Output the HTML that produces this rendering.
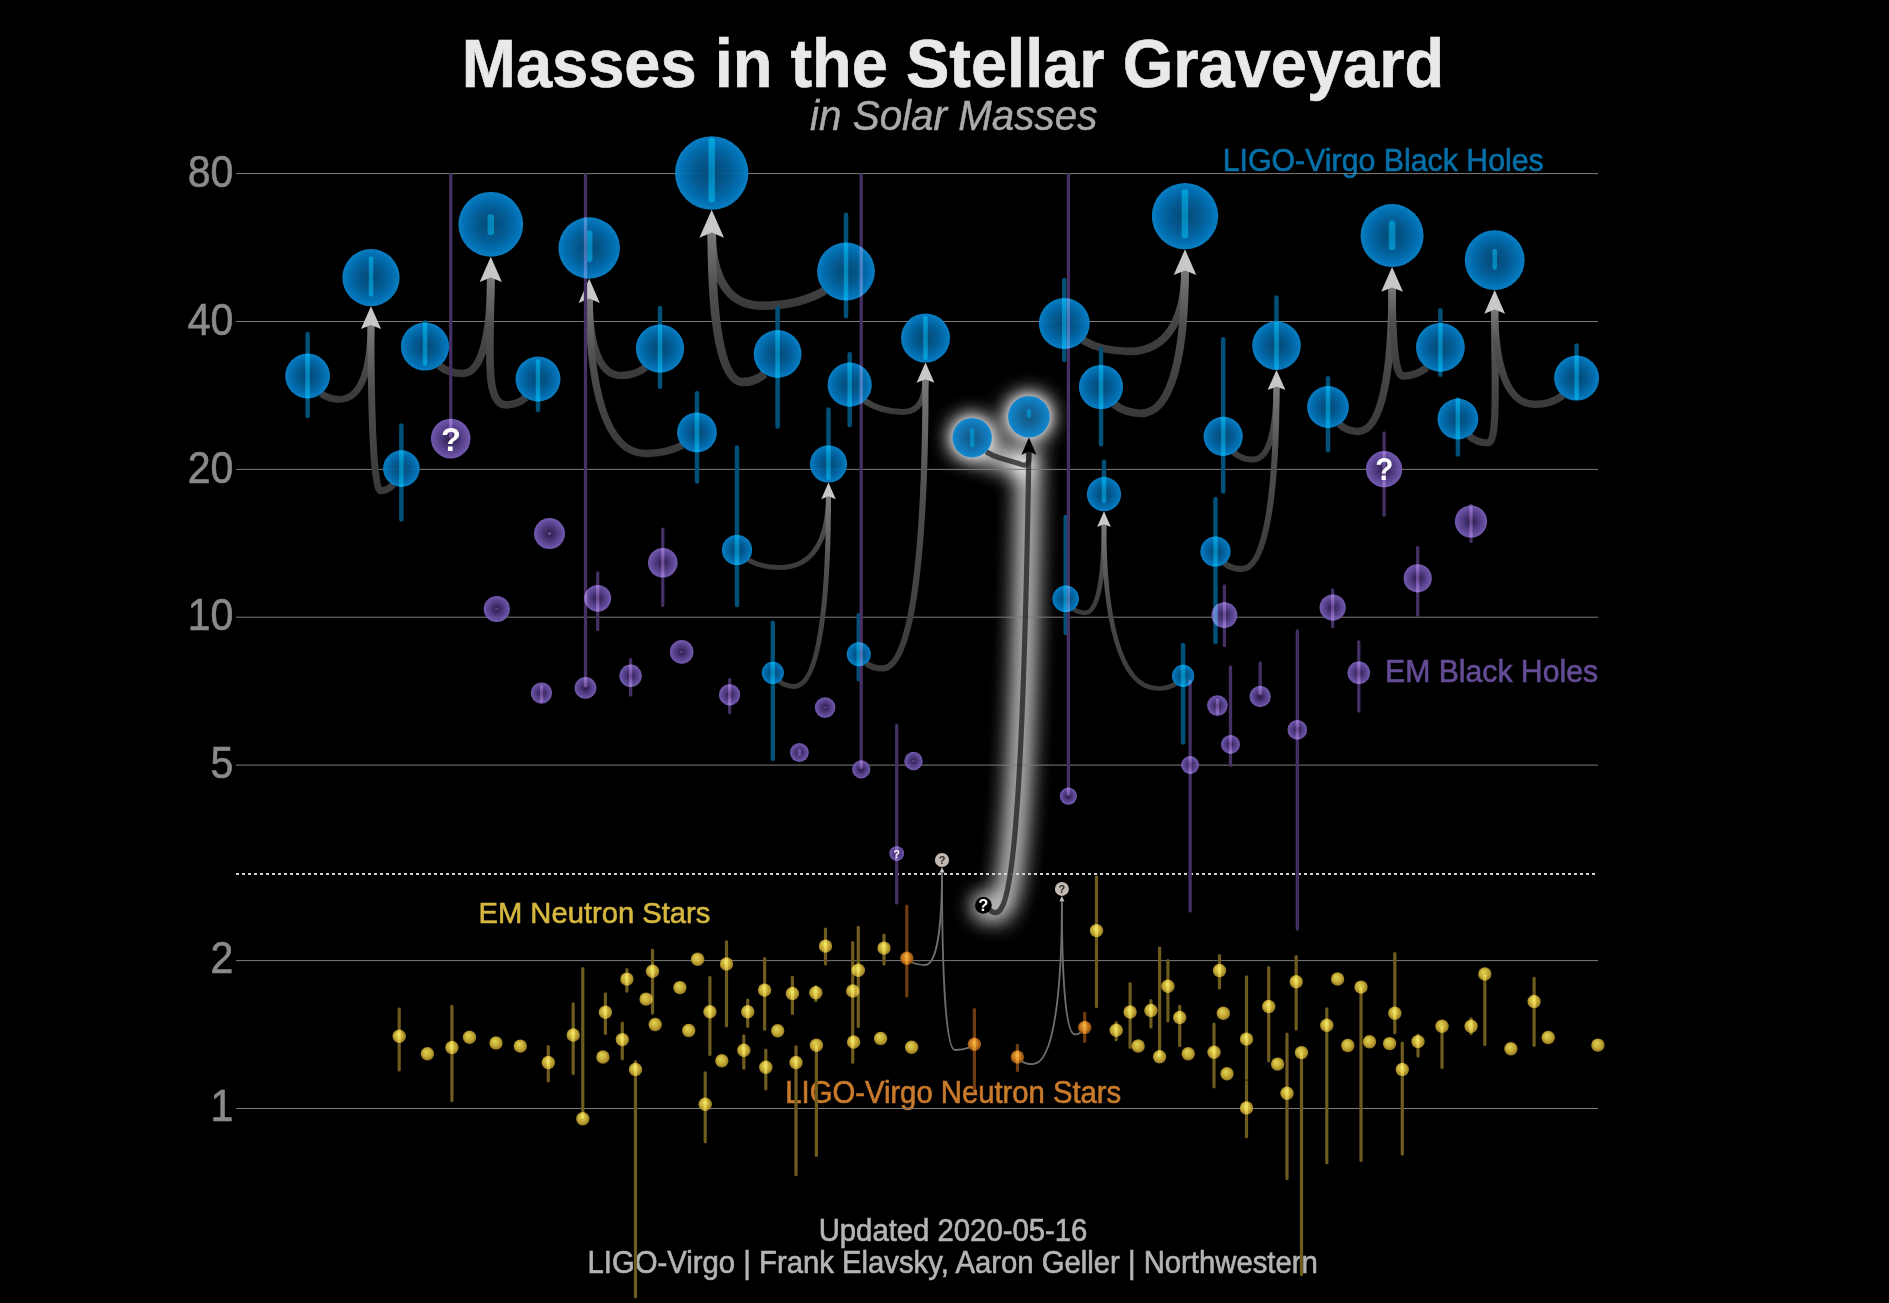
<!DOCTYPE html><html><head><meta charset="utf-8"><title>Masses in the Stellar Graveyard</title>
<style>html,body{margin:0;padding:0;background:#000;}body{width:1889px;height:1303px;overflow:hidden;}svg{display:block;}text{font-family:"Liberation Sans",sans-serif;}</style></head><body>
<svg width="1889" height="1303" viewBox="0 0 1889 1303">
<defs>
<radialGradient id="gb" cx="50%" cy="50%" r="50%"><stop offset="0" stop-color="#034d7a"/><stop offset="0.45" stop-color="#045f9a"/><stop offset="0.8" stop-color="#0276bc"/><stop offset="1" stop-color="#0a86d0"/></radialGradient>
<radialGradient id="gp" cx="50%" cy="50%" r="50%"><stop offset="0" stop-color="#2c1e48"/><stop offset="0.5" stop-color="#553f8c"/><stop offset="1" stop-color="#7c62be"/></radialGradient>
<radialGradient id="gy" cx="50%" cy="50%" r="55%" fx="38%" fy="32%"><stop offset="0" stop-color="#f4ec60"/><stop offset="0.55" stop-color="#dfbf3c"/><stop offset="1" stop-color="#9a7e24"/></radialGradient>
<radialGradient id="go" cx="50%" cy="50%" r="55%" fx="38%" fy="32%"><stop offset="0" stop-color="#f6b040"/><stop offset="0.55" stop-color="#e08420"/><stop offset="1" stop-color="#8a4a10"/></radialGradient>
<filter id="glow" filterUnits="userSpaceOnUse" x="850" y="330" width="300" height="660"><feGaussianBlur stdDeviation="11"/><feComponentTransfer><feFuncA type="linear" slope="1.7"/></feComponentTransfer></filter>
<filter id="glow2" filterUnits="userSpaceOnUse" x="850" y="330" width="300" height="660"><feGaussianBlur stdDeviation="12.5"/><feComponentTransfer><feFuncA type="linear" slope="1.9"/></feComponentTransfer></filter>
</defs>
<rect width="1889" height="1303" fill="#000"/>
<text transform="translate(953 87) scale(1 1.042)" text-anchor="middle" font-weight="bold" font-size="65" fill="#e9e9e9" stroke="#e9e9e9" stroke-width="0.6">Masses in the Stellar Graveyard</text>
<text transform="translate(953.7 129.9) scale(1 1.042)" text-anchor="middle" font-style="italic" font-size="40.4" fill="#ababab" stroke="#ababab" stroke-width="0.4">in Solar Masses</text>
<text transform="translate(233.4 187.4) scale(1 1.07)" text-anchor="end" font-size="41" fill="#8a8a8a" stroke="#8a8a8a" stroke-width="0.6">80</text>
<text transform="translate(233.4 335.1) scale(1 1.07)" text-anchor="end" font-size="41" fill="#8a8a8a" stroke="#8a8a8a" stroke-width="0.6">40</text>
<text transform="translate(233.4 482.7) scale(1 1.07)" text-anchor="end" font-size="41" fill="#8a8a8a" stroke="#8a8a8a" stroke-width="0.6">20</text>
<text transform="translate(233.4 630.2) scale(1 1.07)" text-anchor="end" font-size="41" fill="#8a8a8a" stroke="#8a8a8a" stroke-width="0.6">10</text>
<text transform="translate(233.4 778) scale(1 1.07)" text-anchor="end" font-size="41" fill="#8a8a8a" stroke="#8a8a8a" stroke-width="0.6">5</text>
<text transform="translate(233.4 973.3) scale(1 1.07)" text-anchor="end" font-size="41" fill="#8a8a8a" stroke="#8a8a8a" stroke-width="0.6">2</text>
<text transform="translate(233.4 1121.2) scale(1 1.07)" text-anchor="end" font-size="41" fill="#8a8a8a" stroke="#8a8a8a" stroke-width="0.6">1</text>
<text transform="translate(1222.7 170.9) scale(1 1.042)" font-size="30.3" fill="#0670a8" stroke="#0670a8" stroke-width="0.6">LIGO-Virgo Black Holes</text>
<text transform="translate(1385 681.8) scale(1 1.042)" font-size="30.2" fill="#654c96" stroke="#654c96" stroke-width="0.6">EM Black Holes</text>
<text transform="translate(478.5 923.2) scale(1 1.042)" font-size="29.2" fill="#d6b840" stroke="#d6b840" stroke-width="0.6">EM Neutron Stars</text>
<text transform="translate(785.3 1102.6) scale(1 1.042)" font-size="29.25" fill="#c97a2a" stroke="#c97a2a" stroke-width="0.6">LIGO-Virgo Neutron Stars</text>
<text transform="translate(953 1240.9) scale(1 1.042)" text-anchor="middle" font-size="29.3" fill="#b4b4b4" stroke="#b4b4b4" stroke-width="0.6">Updated 2020-05-16</text>
<text transform="translate(952.7 1273.2) scale(1 1.042)" text-anchor="middle" font-size="29.3" fill="#b4b4b4" stroke="#b4b4b4" stroke-width="0.6">LIGO-Virgo | Frank Elavsky, Aaron Geller | Northwestern</text>
<g filter="url(#glow2)">
<path d="M986.1 451.7Q992 455.5 1000 458L1020 464Q1028.9 468 1028.9 458L1028.9 451.2" fill="none" stroke="#fff" stroke-width="10" stroke-linecap="round"/>
<path d="M989.9 910.4C1005.4 921.6 1021.7 910.1 1028.9 451.2" fill="none" stroke="#fff" stroke-width="10" stroke-linecap="round"/>
</g>
<g filter="url(#glow)">
<circle cx="972.2" cy="437.8" r="19.7" fill="#fff"/>
<circle cx="1028.9" cy="416.7" r="20.8" fill="#fff"/>
<circle cx="983.4" cy="905.4" r="8.4" fill="#fff"/>
</g>
<line x1="236" x2="1598" y1="173.6" y2="173.6" stroke="#7c7c7c" stroke-width="1"/>
<line x1="236" x2="1598" y1="321.5" y2="321.5" stroke="#7c7c7c" stroke-width="1"/>
<line x1="236" x2="1598" y1="469.4" y2="469.4" stroke="#7c7c7c" stroke-width="1"/>
<line x1="236" x2="1598" y1="617.2" y2="617.2" stroke="#7c7c7c" stroke-width="1"/>
<line x1="236" x2="1598" y1="765.1" y2="765.1" stroke="#7c7c7c" stroke-width="1"/>
<line x1="236" x2="1598" y1="960.6" y2="960.6" stroke="#7c7c7c" stroke-width="1"/>
<line x1="236" x2="1598" y1="1108.5" y2="1108.5" stroke="#7c7c7c" stroke-width="1"/>
<line x1="236" x2="1598" y1="873.9" y2="873.9" stroke="#d2d2d2" stroke-width="2" stroke-dasharray="3 3"/>
<linearGradient id="cg1" gradientUnits="userSpaceOnUse" x1="0" x2="0" y1="399.4" y2="324.5"><stop offset="0" stop-color="#3a3a3a"/><stop offset="0.6" stop-color="#4e4e4e"/><stop offset="1" stop-color="#787878"/></linearGradient>
<path d="M320.9 393.7C326.5 397.6 333 399.4 339.4 399.4C362.5 399.4 371 365.7 371 324.5" fill="none" stroke="url(#cg1)" stroke-opacity="1" stroke-width="6.9"/>
<linearGradient id="cg2" gradientUnits="userSpaceOnUse" x1="0" x2="0" y1="490.7" y2="324.5"><stop offset="0" stop-color="#3a3a3a"/><stop offset="0.6" stop-color="#4e4e4e"/><stop offset="1" stop-color="#787878"/></linearGradient>
<path d="M393.3 484.7C389.5 488.8 385.1 490.7 380.7 490.7C373.6 490.7 371 415.9 371 324.5" fill="none" stroke="url(#cg2)" stroke-opacity="1" stroke-width="6.9"/>
<path d="M371 306.2L381.1 329.1L371 325L360.9 329.1Z" fill="#c8c8c8"/>
<linearGradient id="cg3" gradientUnits="userSpaceOnUse" x1="0" x2="0" y1="373.5" y2="276.9"><stop offset="0" stop-color="#3a3a3a"/><stop offset="0.6" stop-color="#4e4e4e"/><stop offset="1" stop-color="#787878"/></linearGradient>
<path d="M439 365.7C446 371.1 454.2 373.5 462.4 373.5C483.1 373.5 490.8 330 490.8 276.9" fill="none" stroke="url(#cg3)" stroke-opacity="1" stroke-width="7.7"/>
<linearGradient id="cg4" gradientUnits="userSpaceOnUse" x1="0" x2="0" y1="404.8" y2="276.9"><stop offset="0" stop-color="#3a3a3a"/><stop offset="0.6" stop-color="#4e4e4e"/><stop offset="1" stop-color="#787878"/></linearGradient>
<path d="M525.8 397.6C519.9 402.5 512.9 404.8 506 404.8C483.8 404.8 490.8 347.3 490.8 276.9" fill="none" stroke="url(#cg4)" stroke-opacity="1" stroke-width="7.7"/>
<path d="M490.8 256.7L501.9 282L490.8 277.4L479.7 282Z" fill="#c8c8c8"/>
<linearGradient id="cg5" gradientUnits="userSpaceOnUse" x1="0" x2="0" y1="375.5" y2="298.1"><stop offset="0" stop-color="#3a3a3a"/><stop offset="0.6" stop-color="#4e4e4e"/><stop offset="1" stop-color="#787878"/></linearGradient>
<path d="M645.6 367.5C638.3 373 629.5 375.5 620.8 375.5C597.7 375.5 589.2 340.7 589.2 298.1" fill="none" stroke="url(#cg5)" stroke-opacity="1" stroke-width="7.3"/>
<linearGradient id="cg6" gradientUnits="userSpaceOnUse" x1="0" x2="0" y1="453.5" y2="298.1"><stop offset="0" stop-color="#3a3a3a"/><stop offset="0.6" stop-color="#4e4e4e"/><stop offset="1" stop-color="#787878"/></linearGradient>
<path d="M682.2 445.3C671.8 450.9 658.7 453.5 645.6 453.5C604.4 453.5 589.2 383.6 589.2 298.1" fill="none" stroke="url(#cg6)" stroke-opacity="1" stroke-width="7.3"/>
<path d="M589.2 278.7L599.8 302.9L589.2 298.5L578.6 302.9Z" fill="#c8c8c8"/>
<linearGradient id="cg7" gradientUnits="userSpaceOnUse" x1="0" x2="0" y1="305.8" y2="232.1"><stop offset="0" stop-color="#3a3a3a"/><stop offset="0.6" stop-color="#4e4e4e"/><stop offset="1" stop-color="#787878"/></linearGradient>
<path d="M824.8 290.7C807.2 301.1 784.5 305.8 761.8 305.8C725.2 305.8 711.7 272.6 711.7 232.1" fill="none" stroke="url(#cg7)" stroke-opacity="1" stroke-width="8.5"/>
<linearGradient id="cg8" gradientUnits="userSpaceOnUse" x1="0" x2="0" y1="382" y2="232.1"><stop offset="0" stop-color="#3a3a3a"/><stop offset="0.6" stop-color="#4e4e4e"/><stop offset="1" stop-color="#787878"/></linearGradient>
<path d="M764.7 373.8C758.2 379.4 750.4 382 742.7 382C720.1 382 711.7 314.5 711.7 232.1" fill="none" stroke="url(#cg8)" stroke-opacity="1" stroke-width="8.5"/>
<path d="M711.7 209.7L724 237.7L711.7 232.6L699.4 237.7Z" fill="#c8c8c8"/>
<linearGradient id="cg9" gradientUnits="userSpaceOnUse" x1="0" x2="0" y1="412" y2="378.7"><stop offset="0" stop-color="#3a3a3a"/><stop offset="0.6" stop-color="#4e4e4e"/><stop offset="1" stop-color="#787878"/></linearGradient>
<path d="M864.4 400.8C875.5 408.5 889.5 412 903.6 412C919.6 412 925.5 397 925.5 378.7" fill="none" stroke="url(#cg9)" stroke-opacity="1" stroke-width="6.2"/>
<linearGradient id="cg10" gradientUnits="userSpaceOnUse" x1="0" x2="0" y1="668.4" y2="378.7"><stop offset="0" stop-color="#3a3a3a"/><stop offset="0.6" stop-color="#4e4e4e"/><stop offset="1" stop-color="#787878"/></linearGradient>
<path d="M866.2 663.4C870.9 666.8 876.6 668.4 882.4 668.4C913.9 668.4 925.5 538.1 925.5 378.7" fill="none" stroke="url(#cg10)" stroke-opacity="1" stroke-width="6.2"/>
<path d="M925.5 362.5L934.4 382.8L925.5 379.2L916.6 382.8Z" fill="#c8c8c8"/>
<linearGradient id="cg11" gradientUnits="userSpaceOnUse" x1="0" x2="0" y1="567.5" y2="495.9"><stop offset="0" stop-color="#3a3a3a"/><stop offset="0.6" stop-color="#4e4e4e"/><stop offset="1" stop-color="#787878"/></linearGradient>
<path d="M748 559.9C757 565.1 768.5 567.5 780 567.5C815.4 567.5 828.5 535.3 828.5 495.9" fill="none" stroke="url(#cg11)" stroke-opacity="1" stroke-width="5"/>
<linearGradient id="cg12" gradientUnits="userSpaceOnUse" x1="0" x2="0" y1="686.4" y2="495.9"><stop offset="0" stop-color="#3a3a3a"/><stop offset="0.6" stop-color="#4e4e4e"/><stop offset="1" stop-color="#787878"/></linearGradient>
<path d="M779.4 681.4C783.7 684.8 789.1 686.4 794.5 686.4C819.3 686.4 828.5 600.7 828.5 495.9" fill="none" stroke="url(#cg12)" stroke-opacity="1" stroke-width="5"/>
<path d="M828.5 482.6L835.8 499.2L828.5 496.2L821.2 499.2Z" fill="#c8c8c8"/>
<linearGradient id="cg13" gradientUnits="userSpaceOnUse" x1="0" x2="0" y1="351.3" y2="269.9"><stop offset="0" stop-color="#3a3a3a"/><stop offset="0.6" stop-color="#4e4e4e"/><stop offset="1" stop-color="#787878"/></linearGradient>
<path d="M1082.9 340.4C1096 347.9 1112.5 351.3 1129 351.3C1169.9 351.3 1185 314.7 1185 269.9" fill="none" stroke="url(#cg13)" stroke-opacity="1" stroke-width="7.8"/>
<linearGradient id="cg14" gradientUnits="userSpaceOnUse" x1="0" x2="0" y1="413.3" y2="269.9"><stop offset="0" stop-color="#3a3a3a"/><stop offset="0.6" stop-color="#4e4e4e"/><stop offset="1" stop-color="#787878"/></linearGradient>
<path d="M1114.2 404.4C1122 410.5 1131.5 413.3 1141 413.3C1173.1 413.3 1185 348.8 1185 269.9" fill="none" stroke="url(#cg14)" stroke-opacity="1" stroke-width="7.8"/>
<path d="M1185 249.3L1196.3 275.1L1185 270.4L1173.7 275.1Z" fill="#c8c8c8"/>
<linearGradient id="cg15" gradientUnits="userSpaceOnUse" x1="0" x2="0" y1="612.8" y2="523.8"><stop offset="0" stop-color="#3a3a3a"/><stop offset="0.6" stop-color="#4e4e4e"/><stop offset="1" stop-color="#787878"/></linearGradient>
<path d="M1073.5 609.2C1077 611.7 1081.1 612.8 1085.1 612.8C1098.9 612.8 1104 572.8 1104 523.8" fill="none" stroke="url(#cg15)" stroke-opacity="1" stroke-width="4.7"/>
<linearGradient id="cg16" gradientUnits="userSpaceOnUse" x1="0" x2="0" y1="688.5" y2="523.8"><stop offset="0" stop-color="#3a3a3a"/><stop offset="0.6" stop-color="#4e4e4e"/><stop offset="1" stop-color="#787878"/></linearGradient>
<path d="M1175.7 683.7C1170.6 687 1164.3 688.5 1158 688.5C1118.6 688.5 1104 614.4 1104 523.8" fill="none" stroke="url(#cg16)" stroke-opacity="1" stroke-width="4.7"/>
<path d="M1104 511.3L1110.9 527L1104 524.2L1097.1 527Z" fill="#c8c8c8"/>
<linearGradient id="cg17" gradientUnits="userSpaceOnUse" x1="0" x2="0" y1="459.6" y2="386"><stop offset="0" stop-color="#3a3a3a"/><stop offset="0.6" stop-color="#4e4e4e"/><stop offset="1" stop-color="#787878"/></linearGradient>
<path d="M1233.8 452.5C1239.4 457.4 1246.1 459.6 1252.8 459.6C1270.1 459.6 1276.5 426.5 1276.5 386" fill="none" stroke="url(#cg17)" stroke-opacity="1" stroke-width="6.1"/>
<linearGradient id="cg18" gradientUnits="userSpaceOnUse" x1="0" x2="0" y1="569" y2="386"><stop offset="0" stop-color="#3a3a3a"/><stop offset="0.6" stop-color="#4e4e4e"/><stop offset="1" stop-color="#787878"/></linearGradient>
<path d="M1224.4 563.3C1229.5 567.2 1235.6 569 1241.7 569C1267.1 569 1276.5 486.7 1276.5 386" fill="none" stroke="url(#cg18)" stroke-opacity="1" stroke-width="6.1"/>
<path d="M1276.5 369.9L1285.4 390.1L1276.5 386.5L1267.6 390.1Z" fill="#c8c8c8"/>
<linearGradient id="cg19" gradientUnits="userSpaceOnUse" x1="0" x2="0" y1="431.4" y2="286.9"><stop offset="0" stop-color="#3a3a3a"/><stop offset="0.6" stop-color="#4e4e4e"/><stop offset="1" stop-color="#787878"/></linearGradient>
<path d="M1339.2 424.3C1344.8 429.2 1351.4 431.4 1358 431.4C1382.9 431.4 1392.1 366.4 1392.1 286.9" fill="none" stroke="url(#cg19)" stroke-opacity="1" stroke-width="7.5"/>
<linearGradient id="cg20" gradientUnits="userSpaceOnUse" x1="0" x2="0" y1="376" y2="286.9"><stop offset="0" stop-color="#3a3a3a"/><stop offset="0.6" stop-color="#4e4e4e"/><stop offset="1" stop-color="#787878"/></linearGradient>
<path d="M1426.8 367.3C1419.7 373.3 1411.1 376 1402.6 376C1394.9 376 1392.1 335.9 1392.1 286.9" fill="none" stroke="url(#cg20)" stroke-opacity="1" stroke-width="7.5"/>
<path d="M1392.1 267.1L1403 291.8L1392.1 287.4L1381.2 291.8Z" fill="#c8c8c8"/>
<linearGradient id="cg21" gradientUnits="userSpaceOnUse" x1="0" x2="0" y1="443" y2="309.1"><stop offset="0" stop-color="#3a3a3a"/><stop offset="0.6" stop-color="#4e4e4e"/><stop offset="1" stop-color="#787878"/></linearGradient>
<path d="M1468.9 435.8C1474.6 440.8 1481.3 443 1488 443C1498.1 443 1494.7 382.7 1494.7 309.1" fill="none" stroke="url(#cg21)" stroke-opacity="1" stroke-width="7.2"/>
<linearGradient id="cg22" gradientUnits="userSpaceOnUse" x1="0" x2="0" y1="404.4" y2="309.1"><stop offset="0" stop-color="#3a3a3a"/><stop offset="0.6" stop-color="#4e4e4e"/><stop offset="1" stop-color="#787878"/></linearGradient>
<path d="M1562.8 395.5C1554.7 401.6 1544.9 404.4 1535 404.4C1505.6 404.4 1494.7 361.5 1494.7 309.1" fill="none" stroke="url(#cg22)" stroke-opacity="1" stroke-width="7.2"/>
<path d="M1494.7 290.1L1505.1 313.8L1494.7 309.5L1484.3 313.8Z" fill="#c8c8c8"/>
<path d="M986.1 451.7Q992 455.5 1000 458L1020 464Q1028.9 468 1028.9 458L1028.9 451.2" fill="none" stroke="#212121" stroke-opacity="0.77" stroke-width="5.2"/>
<path d="M989.9 910.4C1005.4 921.6 1021.7 910.1 1028.9 451.2" fill="none" stroke="#212121" stroke-opacity="0.77" stroke-width="5.2"/>
<path d="M1028.9 437.5L1036.4 454.7L1028.9 451.6L1021.4 454.7Z" fill="#000"/>
<path d="M911.8 962.3C915.6 964.2 920.3 965 925 965C937.4 965 942 923.1 942 871.8" fill="none" stroke="#6e6e6e" stroke-opacity="1" stroke-width="1.8"/>
<path d="M969 1047.7C965 1049.3 960 1050 955 1050C945.5 1050 942 969.8 942 871.8" fill="none" stroke="#6e6e6e" stroke-opacity="1" stroke-width="1.8"/>
<path d="M942 867.1L944.6 873L942 871.9L939.4 873Z" fill="#c8c8c8"/>
<path d="M1080.9 1032.6C1079.1 1033.9 1077.1 1034.5 1075 1034.5C1065.4 1034.5 1061.9 974.2 1061.9 900.6" fill="none" stroke="#6e6e6e" stroke-opacity="1" stroke-width="1.8"/>
<path d="M1022 1061.4C1025.1 1063.3 1028.9 1064.1 1032.7 1064.1C1054 1064.1 1061.9 990.5 1061.9 900.6" fill="none" stroke="#6e6e6e" stroke-opacity="1" stroke-width="1.8"/>
<path d="M1061.9 895.9L1064.5 901.8L1061.9 900.7L1059.3 901.8Z" fill="#c8c8c8"/>
<clipPath id="cclip">
<circle cx="307.6" cy="376" r="22.4"/>
<circle cx="371" cy="277.6" r="28.6"/>
<circle cx="401.4" cy="468.6" r="18.3"/>
<circle cx="425" cy="346.5" r="24.1"/>
<circle cx="490.8" cy="224.3" r="32.4"/>
<circle cx="538" cy="379" r="22.5"/>
<circle cx="589.2" cy="248" r="30.7"/>
<circle cx="660" cy="348.5" r="24.1"/>
<circle cx="697" cy="432.4" r="19.9"/>
<circle cx="711.7" cy="173" r="36.7"/>
<circle cx="737" cy="550" r="15.1"/>
<circle cx="772.8" cy="672.8" r="11.1"/>
<circle cx="777.6" cy="354" r="23.9"/>
<circle cx="828.5" cy="464" r="18.6"/>
<circle cx="846" cy="271.5" r="28.9"/>
<circle cx="849.7" cy="384.7" r="22.1"/>
<circle cx="858.8" cy="654.3" r="12"/>
<circle cx="925.5" cy="338" r="24.5"/>
<circle cx="972.2" cy="437.8" r="19.7"/>
<circle cx="1028.9" cy="416.7" r="20.8"/>
<circle cx="1064.3" cy="323.5" r="25.4"/>
<circle cx="1065.7" cy="598.8" r="13.3"/>
<circle cx="1101" cy="387" r="22.1"/>
<circle cx="1104" cy="494.2" r="17.1"/>
<circle cx="1185" cy="216.1" r="33.2"/>
<circle cx="1183.1" cy="675.8" r="11.1"/>
<circle cx="1215.5" cy="551.5" r="15.1"/>
<circle cx="1223.2" cy="436.4" r="19.6"/>
<circle cx="1276.5" cy="345.6" r="24.3"/>
<circle cx="1328" cy="407" r="20.9"/>
<circle cx="1392.1" cy="235.6" r="31.5"/>
<circle cx="1440.4" cy="347.3" r="24.4"/>
<circle cx="1457.9" cy="419" r="20.4"/>
<circle cx="1494.7" cy="260.2" r="29.9"/>
<circle cx="1576.6" cy="378.1" r="22.5"/>
<circle cx="450.7" cy="438.6" r="19.8"/>
<circle cx="549.5" cy="533.6" r="15.5"/>
<circle cx="496.8" cy="609" r="13.1"/>
<circle cx="597.7" cy="598.3" r="13.4"/>
<circle cx="662.8" cy="562.7" r="14.8"/>
<circle cx="541.5" cy="693.1" r="10.6"/>
<circle cx="585.5" cy="687.9" r="10.9"/>
<circle cx="630.6" cy="675.8" r="11.2"/>
<circle cx="681.7" cy="651.9" r="11.8"/>
<circle cx="729.6" cy="694.8" r="10.6"/>
<circle cx="799.4" cy="752.5" r="9.4"/>
<circle cx="825.1" cy="707.6" r="10.3"/>
<circle cx="861.2" cy="769.4" r="9.1"/>
<circle cx="913.5" cy="761" r="9.2"/>
<circle cx="896.7" cy="853.6" r="7.4"/>
<circle cx="1068.4" cy="796.1" r="8.6"/>
<circle cx="1190.1" cy="765" r="9"/>
<circle cx="1217.4" cy="705.6" r="10.3"/>
<circle cx="1230.5" cy="744.4" r="9.5"/>
<circle cx="1224.4" cy="615.1" r="12.9"/>
<circle cx="1260.2" cy="696.6" r="10.6"/>
<circle cx="1297.3" cy="729.8" r="9.8"/>
<circle cx="1332.7" cy="607.6" r="13.1"/>
<circle cx="1358.8" cy="672.8" r="11.3"/>
<circle cx="1384.1" cy="469.2" r="18.1"/>
<circle cx="1417.7" cy="578.3" r="14.1"/>
<circle cx="1471" cy="521.5" r="16.1"/>
<circle cx="399.2" cy="1036.3" r="6.7"/>
<circle cx="427.4" cy="1053.8" r="6.7"/>
<circle cx="451.9" cy="1047.5" r="6.7"/>
<circle cx="469.5" cy="1037.3" r="6.7"/>
<circle cx="496" cy="1042.9" r="6.7"/>
<circle cx="520.3" cy="1046.1" r="6.7"/>
<circle cx="548.3" cy="1062.5" r="6.7"/>
<circle cx="573.2" cy="1035" r="6.7"/>
<circle cx="582.8" cy="1118.7" r="6.7"/>
<circle cx="605.4" cy="1012.2" r="6.7"/>
<circle cx="602.9" cy="1057" r="6.7"/>
<circle cx="622.3" cy="1039.6" r="6.7"/>
<circle cx="626.9" cy="979.1" r="6.7"/>
<circle cx="635.5" cy="1069.4" r="6.7"/>
<circle cx="646.1" cy="999.1" r="6.7"/>
<circle cx="652.5" cy="971.2" r="6.7"/>
<circle cx="655.2" cy="1024.5" r="6.7"/>
<circle cx="679.9" cy="987.6" r="6.7"/>
<circle cx="688.7" cy="1030.5" r="6.7"/>
<circle cx="697.6" cy="959.3" r="6.7"/>
<circle cx="709.9" cy="1011.8" r="6.7"/>
<circle cx="705.2" cy="1104.2" r="6.7"/>
<circle cx="721.8" cy="1060.8" r="6.7"/>
<circle cx="726.5" cy="963.9" r="6.7"/>
<circle cx="743.8" cy="1050.3" r="6.7"/>
<circle cx="747.7" cy="1011.8" r="6.7"/>
<circle cx="764.6" cy="990.1" r="6.7"/>
<circle cx="765.8" cy="1067.2" r="6.7"/>
<circle cx="777.7" cy="1030.8" r="6.7"/>
<circle cx="792.4" cy="993.5" r="6.7"/>
<circle cx="796" cy="1062.5" r="6.7"/>
<circle cx="815.8" cy="992.7" r="6.7"/>
<circle cx="816.4" cy="1045.2" r="6.7"/>
<circle cx="825.5" cy="946.1" r="6.7"/>
<circle cx="852.7" cy="991" r="6.7"/>
<circle cx="858.3" cy="970.3" r="6.7"/>
<circle cx="853.6" cy="1042" r="6.7"/>
<circle cx="884" cy="948.1" r="6.7"/>
<circle cx="880.6" cy="1038.4" r="6.7"/>
<circle cx="911.6" cy="1047.2" r="6.7"/>
<circle cx="1096.5" cy="930.6" r="6.7"/>
<circle cx="1116.2" cy="1030.3" r="6.7"/>
<circle cx="1130.1" cy="1012" r="6.7"/>
<circle cx="1138.2" cy="1046" r="6.7"/>
<circle cx="1150.9" cy="1010.4" r="6.7"/>
<circle cx="1159.6" cy="1056.7" r="6.7"/>
<circle cx="1167.9" cy="986.2" r="6.7"/>
<circle cx="1179.7" cy="1017.5" r="6.7"/>
<circle cx="1188.2" cy="1053.7" r="6.7"/>
<circle cx="1219.5" cy="970.5" r="6.7"/>
<circle cx="1223.3" cy="1013.3" r="6.7"/>
<circle cx="1214" cy="1052.2" r="6.7"/>
<circle cx="1227" cy="1073.8" r="6.7"/>
<circle cx="1246.5" cy="1039.1" r="6.7"/>
<circle cx="1246.5" cy="1107.9" r="6.7"/>
<circle cx="1268.7" cy="1006.5" r="6.7"/>
<circle cx="1277.6" cy="1064.1" r="6.7"/>
<circle cx="1287" cy="1093.2" r="6.7"/>
<circle cx="1296.2" cy="981.7" r="6.7"/>
<circle cx="1301.5" cy="1052.6" r="6.7"/>
<circle cx="1326.8" cy="1025.3" r="6.7"/>
<circle cx="1337.6" cy="979" r="6.7"/>
<circle cx="1347.8" cy="1045.5" r="6.7"/>
<circle cx="1361" cy="987.1" r="6.7"/>
<circle cx="1369.5" cy="1041.8" r="6.7"/>
<circle cx="1389.6" cy="1043.6" r="6.7"/>
<circle cx="1394.8" cy="1013.2" r="6.7"/>
<circle cx="1402.3" cy="1069.4" r="6.7"/>
<circle cx="1418" cy="1041.6" r="6.7"/>
<circle cx="1442" cy="1026.2" r="6.7"/>
<circle cx="1471.1" cy="1026.2" r="6.7"/>
<circle cx="1484.8" cy="974" r="6.7"/>
<circle cx="1510.9" cy="1048.7" r="6.7"/>
<circle cx="1534.1" cy="1001.5" r="6.7"/>
<circle cx="1548.2" cy="1037.5" r="6.7"/>
<circle cx="1597.9" cy="1045.1" r="6.7"/>
<circle cx="906.8" cy="958.3" r="6.7"/>
<circle cx="974.4" cy="1044.3" r="6.7"/>
<circle cx="1017.4" cy="1057" r="6.7"/>
<circle cx="1084.7" cy="1027.4" r="6.7"/>
</clipPath>
<line x1="307.6" x2="307.6" y1="333.9" y2="416.1" stroke="#005078" stroke-opacity="1" stroke-width="4.5" stroke-linecap="round"/>
<line x1="371" x2="371" y1="258.8" y2="294.6" stroke="#005078" stroke-opacity="1" stroke-width="4.5" stroke-linecap="round"/>
<line x1="401.4" x2="401.4" y1="425.6" y2="519.6" stroke="#005078" stroke-opacity="1" stroke-width="4.5" stroke-linecap="round"/>
<line x1="425" x2="425" y1="322.2" y2="363.4" stroke="#005078" stroke-opacity="1" stroke-width="4.5" stroke-linecap="round"/>
<line x1="490.8" x2="490.8" y1="217.4" y2="232.1" stroke="#005078" stroke-opacity="1" stroke-width="6.5" stroke-linecap="round"/>
<line x1="538" x2="538" y1="361.6" y2="409.9" stroke="#005078" stroke-opacity="1" stroke-width="4.5" stroke-linecap="round"/>
<line x1="589.2" x2="589.2" y1="233.8" y2="258.8" stroke="#005078" stroke-opacity="1" stroke-width="6.5" stroke-linecap="round"/>
<line x1="660" x2="660" y1="308.1" y2="386.8" stroke="#005078" stroke-opacity="1" stroke-width="4.5" stroke-linecap="round"/>
<line x1="697" x2="697" y1="393.2" y2="481.4" stroke="#005078" stroke-opacity="1" stroke-width="4.5" stroke-linecap="round"/>
<line x1="711.7" x2="711.7" y1="141.1" y2="199.2" stroke="#005078" stroke-opacity="1" stroke-width="6.5" stroke-linecap="round"/>
<line x1="737" x2="737" y1="447.6" y2="605.1" stroke="#005078" stroke-opacity="1" stroke-width="4.5" stroke-linecap="round"/>
<line x1="772.8" x2="772.8" y1="622.8" y2="758.8" stroke="#005078" stroke-opacity="1" stroke-width="4.5" stroke-linecap="round"/>
<line x1="777.6" x2="777.6" y1="308.1" y2="426.4" stroke="#005078" stroke-opacity="1" stroke-width="4.5" stroke-linecap="round"/>
<line x1="828.5" x2="828.5" y1="409.4" y2="477.8" stroke="#005078" stroke-opacity="1" stroke-width="4.5" stroke-linecap="round"/>
<line x1="846" x2="846" y1="214.8" y2="316.2" stroke="#005078" stroke-opacity="1" stroke-width="4.5" stroke-linecap="round"/>
<line x1="849.7" x2="849.7" y1="354.2" y2="425.1" stroke="#005078" stroke-opacity="1" stroke-width="4.5" stroke-linecap="round"/>
<line x1="858.8" x2="858.8" y1="615.2" y2="679.2" stroke="#005078" stroke-opacity="1" stroke-width="4.5" stroke-linecap="round"/>
<line x1="925.5" x2="925.5" y1="318.2" y2="357.8" stroke="#005078" stroke-opacity="1" stroke-width="4.5" stroke-linecap="round"/>
<line x1="972.2" x2="972.2" y1="430.2" y2="445.2" stroke="#005078" stroke-opacity="1" stroke-width="4.5" stroke-linecap="round"/>
<line x1="1028.9" x2="1028.9" y1="411.2" y2="415.8" stroke="#005078" stroke-opacity="1" stroke-width="4.5" stroke-linecap="round"/>
<line x1="1064.3" x2="1064.3" y1="280.1" y2="360.1" stroke="#005078" stroke-opacity="1" stroke-width="4.5" stroke-linecap="round"/>
<line x1="1065.7" x2="1065.7" y1="517.1" y2="633" stroke="#005078" stroke-opacity="1" stroke-width="4.5" stroke-linecap="round"/>
<line x1="1101" x2="1101" y1="349.2" y2="444.2" stroke="#005078" stroke-opacity="1" stroke-width="4.5" stroke-linecap="round"/>
<line x1="1104" x2="1104" y1="461.9" y2="500.8" stroke="#005078" stroke-opacity="1" stroke-width="4.5" stroke-linecap="round"/>
<line x1="1185" x2="1185" y1="192.6" y2="235.3" stroke="#005078" stroke-opacity="1" stroke-width="6.5" stroke-linecap="round"/>
<line x1="1183.1" x2="1183.1" y1="644.9" y2="742.5" stroke="#005078" stroke-opacity="1" stroke-width="4.5" stroke-linecap="round"/>
<line x1="1215.5" x2="1215.5" y1="499.1" y2="642" stroke="#005078" stroke-opacity="1" stroke-width="4.5" stroke-linecap="round"/>
<line x1="1223.2" x2="1223.2" y1="339.2" y2="491.6" stroke="#005078" stroke-opacity="1" stroke-width="4.5" stroke-linecap="round"/>
<line x1="1276.5" x2="1276.5" y1="297.6" y2="367.8" stroke="#005078" stroke-opacity="1" stroke-width="4.5" stroke-linecap="round"/>
<line x1="1328" x2="1328" y1="378.2" y2="450.2" stroke="#005078" stroke-opacity="1" stroke-width="4.5" stroke-linecap="round"/>
<line x1="1392.1" x2="1392.1" y1="223.8" y2="247.1" stroke="#005078" stroke-opacity="1" stroke-width="6.5" stroke-linecap="round"/>
<line x1="1440.4" x2="1440.4" y1="310.2" y2="374.8" stroke="#005078" stroke-opacity="1" stroke-width="4.5" stroke-linecap="round"/>
<line x1="1457.9" x2="1457.9" y1="399.4" y2="454.4" stroke="#005078" stroke-opacity="1" stroke-width="4.5" stroke-linecap="round"/>
<line x1="1494.7" x2="1494.7" y1="251.2" y2="267.6" stroke="#005078" stroke-opacity="1" stroke-width="4.5" stroke-linecap="round"/>
<line x1="1576.6" x2="1576.6" y1="345.4" y2="397.8" stroke="#005078" stroke-opacity="1" stroke-width="4.5" stroke-linecap="round"/>
<line x1="450.7" x2="450.7" y1="174.7" y2="437" stroke="#443062" stroke-opacity="1" stroke-width="3.3" stroke-linecap="round"/>
<line x1="549.5" x2="549.5" y1="533.6" y2="533.6" stroke="#443062" stroke-opacity="1" stroke-width="3.3" stroke-linecap="round"/>
<line x1="495.1" x2="498.5" y1="609" y2="609" stroke="#443062" stroke-width="1.3"/>
<line x1="597.7" x2="597.7" y1="572.9" y2="629.6" stroke="#443062" stroke-opacity="1" stroke-width="3.3" stroke-linecap="round"/>
<line x1="662.8" x2="662.8" y1="529.1" y2="605.4" stroke="#443062" stroke-opacity="1" stroke-width="3.3" stroke-linecap="round"/>
<line x1="541.5" x2="541.5" y1="686.1" y2="701" stroke="#443062" stroke-opacity="1" stroke-width="3.3" stroke-linecap="round"/>
<line x1="585.5" x2="585.5" y1="174.7" y2="685.9" stroke="#443062" stroke-opacity="1" stroke-width="3.3" stroke-linecap="round"/>
<line x1="630.6" x2="630.6" y1="659.6" y2="695" stroke="#443062" stroke-opacity="1" stroke-width="3.3" stroke-linecap="round"/>
<line x1="680" x2="683.4" y1="651.9" y2="651.9" stroke="#443062" stroke-width="1.3"/>
<line x1="729.6" x2="729.6" y1="679.6" y2="712.6" stroke="#443062" stroke-opacity="1" stroke-width="3.3" stroke-linecap="round"/>
<line x1="799.4" x2="799.4" y1="750.6" y2="754.4" stroke="#443062" stroke-opacity="1" stroke-width="3.3" stroke-linecap="round"/>
<line x1="823.4" x2="826.8" y1="707.6" y2="707.6" stroke="#443062" stroke-width="1.3"/>
<line x1="861.2" x2="861.2" y1="174.7" y2="767.4" stroke="#443062" stroke-opacity="1" stroke-width="3.3" stroke-linecap="round"/>
<line x1="911.8" x2="915.2" y1="761" y2="761" stroke="#443062" stroke-width="1.3"/>
<line x1="896.7" x2="896.7" y1="725.4" y2="902.9" stroke="#443062" stroke-opacity="1" stroke-width="3.3" stroke-linecap="round"/>
<line x1="1068.4" x2="1068.4" y1="174.7" y2="794.4" stroke="#443062" stroke-opacity="1" stroke-width="3.3" stroke-linecap="round"/>
<line x1="1190.1" x2="1190.1" y1="681.1" y2="910.9" stroke="#443062" stroke-opacity="1" stroke-width="3.3" stroke-linecap="round"/>
<line x1="1217.4" x2="1217.4" y1="700.2" y2="713.1" stroke="#443062" stroke-opacity="1" stroke-width="3.3" stroke-linecap="round"/>
<line x1="1230.5" x2="1230.5" y1="667" y2="765.4" stroke="#443062" stroke-opacity="1" stroke-width="3.3" stroke-linecap="round"/>
<line x1="1224.4" x2="1224.4" y1="585.9" y2="645.6" stroke="#443062" stroke-opacity="1" stroke-width="3.3" stroke-linecap="round"/>
<line x1="1260.2" x2="1260.2" y1="663" y2="693.4" stroke="#443062" stroke-opacity="1" stroke-width="3.3" stroke-linecap="round"/>
<line x1="1297.3" x2="1297.3" y1="630.9" y2="929.1" stroke="#443062" stroke-opacity="1" stroke-width="3.3" stroke-linecap="round"/>
<line x1="1332.7" x2="1332.7" y1="589.9" y2="626.6" stroke="#443062" stroke-opacity="1" stroke-width="3.3" stroke-linecap="round"/>
<line x1="1358.8" x2="1358.8" y1="641.9" y2="711.1" stroke="#443062" stroke-opacity="1" stroke-width="3.3" stroke-linecap="round"/>
<line x1="1384.1" x2="1384.1" y1="433" y2="515.2" stroke="#443062" stroke-opacity="1" stroke-width="3.3" stroke-linecap="round"/>
<line x1="1417.7" x2="1417.7" y1="547.6" y2="615.4" stroke="#443062" stroke-opacity="1" stroke-width="3.3" stroke-linecap="round"/>
<line x1="1471" x2="1471" y1="505.4" y2="541.4" stroke="#443062" stroke-opacity="1" stroke-width="3.3" stroke-linecap="round"/>
<line x1="399.2" x2="399.2" y1="1009.1" y2="1069.9" stroke="#6e5c1e" stroke-opacity="1" stroke-width="3.2" stroke-linecap="round"/>
<line x1="451.9" x2="451.9" y1="1006.4" y2="1100.6" stroke="#6e5c1e" stroke-opacity="1" stroke-width="3.2" stroke-linecap="round"/>
<line x1="548.3" x2="548.3" y1="1046.6" y2="1081" stroke="#6e5c1e" stroke-opacity="1" stroke-width="3.2" stroke-linecap="round"/>
<line x1="573.2" x2="573.2" y1="1003.8" y2="1073.6" stroke="#6e5c1e" stroke-opacity="1" stroke-width="3.2" stroke-linecap="round"/>
<line x1="582.8" x2="582.8" y1="968.5" y2="1117.1" stroke="#6e5c1e" stroke-opacity="1" stroke-width="3.2" stroke-linecap="round"/>
<line x1="605.4" x2="605.4" y1="993.8" y2="1033.4" stroke="#6e5c1e" stroke-opacity="1" stroke-width="3.2" stroke-linecap="round"/>
<line x1="622.3" x2="622.3" y1="1023.1" y2="1058.8" stroke="#6e5c1e" stroke-opacity="1" stroke-width="3.2" stroke-linecap="round"/>
<line x1="626.9" x2="626.9" y1="969.7" y2="991.1" stroke="#6e5c1e" stroke-opacity="1" stroke-width="3.2" stroke-linecap="round"/>
<line x1="635.5" x2="635.5" y1="1061.6" y2="1296.8" stroke="#6e5c1e" stroke-opacity="1" stroke-width="3.2" stroke-linecap="round"/>
<line x1="652.5" x2="652.5" y1="950.2" y2="1013.1" stroke="#6e5c1e" stroke-opacity="1" stroke-width="3.2" stroke-linecap="round"/>
<line x1="709.9" x2="709.9" y1="977.3" y2="1054.6" stroke="#6e5c1e" stroke-opacity="1" stroke-width="3.2" stroke-linecap="round"/>
<line x1="705.2" x2="705.2" y1="1072.9" y2="1141.8" stroke="#6e5c1e" stroke-opacity="1" stroke-width="3.2" stroke-linecap="round"/>
<line x1="726.5" x2="726.5" y1="941.8" y2="1025.8" stroke="#6e5c1e" stroke-opacity="1" stroke-width="3.2" stroke-linecap="round"/>
<line x1="743.8" x2="743.8" y1="1035.8" y2="1068.2" stroke="#6e5c1e" stroke-opacity="1" stroke-width="3.2" stroke-linecap="round"/>
<line x1="747.7" x2="747.7" y1="1000.2" y2="1026.3" stroke="#6e5c1e" stroke-opacity="1" stroke-width="3.2" stroke-linecap="round"/>
<line x1="764.6" x2="764.6" y1="958.7" y2="1029.2" stroke="#6e5c1e" stroke-opacity="1" stroke-width="3.2" stroke-linecap="round"/>
<line x1="765.8" x2="765.8" y1="1050.2" y2="1088.9" stroke="#6e5c1e" stroke-opacity="1" stroke-width="3.2" stroke-linecap="round"/>
<line x1="792.4" x2="792.4" y1="977.3" y2="1013.4" stroke="#6e5c1e" stroke-opacity="1" stroke-width="3.2" stroke-linecap="round"/>
<line x1="796" x2="796" y1="1046.8" y2="1174.7" stroke="#6e5c1e" stroke-opacity="1" stroke-width="3.2" stroke-linecap="round"/>
<line x1="815.8" x2="815.8" y1="986.6" y2="1000.4" stroke="#6e5c1e" stroke-opacity="1" stroke-width="3.2" stroke-linecap="round"/>
<line x1="816.4" x2="816.4" y1="1046.8" y2="1155.5" stroke="#6e5c1e" stroke-opacity="1" stroke-width="3.2" stroke-linecap="round"/>
<line x1="825.5" x2="825.5" y1="929" y2="964" stroke="#6e5c1e" stroke-opacity="1" stroke-width="3.2" stroke-linecap="round"/>
<line x1="852.7" x2="852.7" y1="942.6" y2="1062.2" stroke="#6e5c1e" stroke-opacity="1" stroke-width="3.2" stroke-linecap="round"/>
<line x1="858.3" x2="858.3" y1="927.3" y2="1026.6" stroke="#6e5c1e" stroke-opacity="1" stroke-width="3.2" stroke-linecap="round"/>
<line x1="884" x2="884" y1="935" y2="964" stroke="#6e5c1e" stroke-opacity="1" stroke-width="3.2" stroke-linecap="round"/>
<line x1="1096.5" x2="1096.5" y1="876.8" y2="1006.6" stroke="#6e5c1e" stroke-opacity="1" stroke-width="3.2" stroke-linecap="round"/>
<line x1="1116.2" x2="1116.2" y1="1022.6" y2="1039.7" stroke="#6e5c1e" stroke-opacity="1" stroke-width="3.2" stroke-linecap="round"/>
<line x1="1130.1" x2="1130.1" y1="983.6" y2="1047.3" stroke="#6e5c1e" stroke-opacity="1" stroke-width="3.2" stroke-linecap="round"/>
<line x1="1150.9" x2="1150.9" y1="1000.5" y2="1027" stroke="#6e5c1e" stroke-opacity="1" stroke-width="3.2" stroke-linecap="round"/>
<line x1="1159.6" x2="1159.6" y1="948" y2="1055.1" stroke="#6e5c1e" stroke-opacity="1" stroke-width="3.2" stroke-linecap="round"/>
<line x1="1167.9" x2="1167.9" y1="960.7" y2="1021" stroke="#6e5c1e" stroke-opacity="1" stroke-width="3.2" stroke-linecap="round"/>
<line x1="1179.7" x2="1179.7" y1="1006.4" y2="1045.6" stroke="#6e5c1e" stroke-opacity="1" stroke-width="3.2" stroke-linecap="round"/>
<line x1="1219.5" x2="1219.5" y1="955.6" y2="988" stroke="#6e5c1e" stroke-opacity="1" stroke-width="3.2" stroke-linecap="round"/>
<line x1="1214" x2="1214" y1="1024.2" y2="1086.8" stroke="#6e5c1e" stroke-opacity="1" stroke-width="3.2" stroke-linecap="round"/>
<line x1="1246.5" x2="1246.5" y1="976.8" y2="1078.4" stroke="#6e5c1e" stroke-opacity="1" stroke-width="3.2" stroke-linecap="round"/>
<line x1="1246.5" x2="1246.5" y1="1081.6" y2="1136.7" stroke="#6e5c1e" stroke-opacity="1" stroke-width="3.2" stroke-linecap="round"/>
<line x1="1268.7" x2="1268.7" y1="967.5" y2="1060.8" stroke="#6e5c1e" stroke-opacity="1" stroke-width="3.2" stroke-linecap="round"/>
<line x1="1287" x2="1287" y1="1034.1" y2="1178.6" stroke="#6e5c1e" stroke-opacity="1" stroke-width="3.2" stroke-linecap="round"/>
<line x1="1296.2" x2="1296.2" y1="956.7" y2="1029.1" stroke="#6e5c1e" stroke-opacity="1" stroke-width="3.2" stroke-linecap="round"/>
<line x1="1301.5" x2="1301.5" y1="1054.2" y2="1274.6" stroke="#6e5c1e" stroke-opacity="1" stroke-width="3.2" stroke-linecap="round"/>
<line x1="1326.8" x2="1326.8" y1="1008.9" y2="1162.8" stroke="#6e5c1e" stroke-opacity="1" stroke-width="3.2" stroke-linecap="round"/>
<line x1="1361" x2="1361" y1="988.6" y2="1160.6" stroke="#6e5c1e" stroke-opacity="1" stroke-width="3.2" stroke-linecap="round"/>
<line x1="1394.8" x2="1394.8" y1="953.6" y2="1032.7" stroke="#6e5c1e" stroke-opacity="1" stroke-width="3.2" stroke-linecap="round"/>
<line x1="1402.3" x2="1402.3" y1="1043.2" y2="1154.1" stroke="#6e5c1e" stroke-opacity="1" stroke-width="3.2" stroke-linecap="round"/>
<line x1="1418" x2="1418" y1="1035" y2="1056.1" stroke="#6e5c1e" stroke-opacity="1" stroke-width="3.2" stroke-linecap="round"/>
<line x1="1442" x2="1442" y1="1027.6" y2="1067.4" stroke="#6e5c1e" stroke-opacity="1" stroke-width="3.2" stroke-linecap="round"/>
<line x1="1471.1" x2="1471.1" y1="1018.8" y2="1033.6" stroke="#6e5c1e" stroke-opacity="1" stroke-width="3.2" stroke-linecap="round"/>
<line x1="1484.8" x2="1484.8" y1="975.6" y2="1044.4" stroke="#6e5c1e" stroke-opacity="1" stroke-width="3.2" stroke-linecap="round"/>
<line x1="1534.1" x2="1534.1" y1="978.3" y2="1045.3" stroke="#6e5c1e" stroke-opacity="1" stroke-width="3.2" stroke-linecap="round"/>
<line x1="906.8" x2="906.8" y1="906.2" y2="996.1" stroke="#6e3c10" stroke-opacity="1" stroke-width="3.2" stroke-linecap="round"/>
<line x1="974.4" x2="974.4" y1="1009.5" y2="1088.4" stroke="#6e3c10" stroke-opacity="1" stroke-width="3.2" stroke-linecap="round"/>
<line x1="1017.4" x2="1017.4" y1="1045.4" y2="1070.4" stroke="#6e3c10" stroke-opacity="1" stroke-width="3.2" stroke-linecap="round"/>
<line x1="1084.7" x2="1084.7" y1="1013.2" y2="1041.4" stroke="#6e3c10" stroke-opacity="1" stroke-width="3.2" stroke-linecap="round"/>
<circle cx="307.6" cy="376" r="22.4" fill="url(#gb)" fill-opacity="0.94"/>
<circle cx="371" cy="277.6" r="28.6" fill="url(#gb)" fill-opacity="0.94"/>
<circle cx="401.4" cy="468.6" r="18.3" fill="url(#gb)" fill-opacity="0.94"/>
<circle cx="425" cy="346.5" r="24.1" fill="url(#gb)" fill-opacity="0.94"/>
<circle cx="490.8" cy="224.3" r="32.4" fill="url(#gb)" fill-opacity="0.94"/>
<circle cx="538" cy="379" r="22.5" fill="url(#gb)" fill-opacity="0.94"/>
<circle cx="589.2" cy="248" r="30.7" fill="url(#gb)" fill-opacity="0.94"/>
<circle cx="660" cy="348.5" r="24.1" fill="url(#gb)" fill-opacity="0.94"/>
<circle cx="697" cy="432.4" r="19.9" fill="url(#gb)" fill-opacity="0.94"/>
<circle cx="711.7" cy="173" r="36.7" fill="url(#gb)" fill-opacity="0.94"/>
<circle cx="737" cy="550" r="15.1" fill="url(#gb)" fill-opacity="0.94"/>
<circle cx="772.8" cy="672.8" r="11.1" fill="url(#gb)" fill-opacity="0.94"/>
<circle cx="777.6" cy="354" r="23.9" fill="url(#gb)" fill-opacity="0.94"/>
<circle cx="828.5" cy="464" r="18.6" fill="url(#gb)" fill-opacity="0.94"/>
<circle cx="846" cy="271.5" r="28.9" fill="url(#gb)" fill-opacity="0.94"/>
<circle cx="849.7" cy="384.7" r="22.1" fill="url(#gb)" fill-opacity="0.94"/>
<circle cx="858.8" cy="654.3" r="12" fill="url(#gb)" fill-opacity="0.94"/>
<circle cx="925.5" cy="338" r="24.5" fill="url(#gb)" fill-opacity="0.94"/>
<circle cx="972.2" cy="437.8" r="19.7" fill="url(#gb)" fill-opacity="0.94"/>
<circle cx="1028.9" cy="416.7" r="20.8" fill="url(#gb)" fill-opacity="0.94"/>
<circle cx="1064.3" cy="323.5" r="25.4" fill="url(#gb)" fill-opacity="0.94"/>
<circle cx="1065.7" cy="598.8" r="13.3" fill="url(#gb)" fill-opacity="0.94"/>
<circle cx="1101" cy="387" r="22.1" fill="url(#gb)" fill-opacity="0.94"/>
<circle cx="1104" cy="494.2" r="17.1" fill="url(#gb)" fill-opacity="0.94"/>
<circle cx="1185" cy="216.1" r="33.2" fill="url(#gb)" fill-opacity="0.94"/>
<circle cx="1183.1" cy="675.8" r="11.1" fill="url(#gb)" fill-opacity="0.94"/>
<circle cx="1215.5" cy="551.5" r="15.1" fill="url(#gb)" fill-opacity="0.94"/>
<circle cx="1223.2" cy="436.4" r="19.6" fill="url(#gb)" fill-opacity="0.94"/>
<circle cx="1276.5" cy="345.6" r="24.3" fill="url(#gb)" fill-opacity="0.94"/>
<circle cx="1328" cy="407" r="20.9" fill="url(#gb)" fill-opacity="0.94"/>
<circle cx="1392.1" cy="235.6" r="31.5" fill="url(#gb)" fill-opacity="0.94"/>
<circle cx="1440.4" cy="347.3" r="24.4" fill="url(#gb)" fill-opacity="0.94"/>
<circle cx="1457.9" cy="419" r="20.4" fill="url(#gb)" fill-opacity="0.94"/>
<circle cx="1494.7" cy="260.2" r="29.9" fill="url(#gb)" fill-opacity="0.94"/>
<circle cx="1576.6" cy="378.1" r="22.5" fill="url(#gb)" fill-opacity="0.94"/>
<circle cx="450.7" cy="438.6" r="19.8" fill="url(#gp)" fill-opacity="0.92"/>
<circle cx="549.5" cy="533.6" r="15.5" fill="url(#gp)" fill-opacity="0.92"/>
<circle cx="496.8" cy="609" r="13.1" fill="url(#gp)" fill-opacity="0.92"/>
<circle cx="597.7" cy="598.3" r="13.4" fill="url(#gp)" fill-opacity="0.92"/>
<circle cx="662.8" cy="562.7" r="14.8" fill="url(#gp)" fill-opacity="0.92"/>
<circle cx="541.5" cy="693.1" r="10.6" fill="url(#gp)" fill-opacity="0.92"/>
<circle cx="585.5" cy="687.9" r="10.9" fill="url(#gp)" fill-opacity="0.92"/>
<circle cx="630.6" cy="675.8" r="11.2" fill="url(#gp)" fill-opacity="0.92"/>
<circle cx="681.7" cy="651.9" r="11.8" fill="url(#gp)" fill-opacity="0.92"/>
<circle cx="729.6" cy="694.8" r="10.6" fill="url(#gp)" fill-opacity="0.92"/>
<circle cx="799.4" cy="752.5" r="9.4" fill="url(#gp)" fill-opacity="0.92"/>
<circle cx="825.1" cy="707.6" r="10.3" fill="url(#gp)" fill-opacity="0.92"/>
<circle cx="861.2" cy="769.4" r="9.1" fill="url(#gp)" fill-opacity="0.92"/>
<circle cx="913.5" cy="761" r="9.2" fill="url(#gp)" fill-opacity="0.92"/>
<circle cx="896.7" cy="853.6" r="7.4" fill="url(#gp)" fill-opacity="0.92"/>
<circle cx="1068.4" cy="796.1" r="8.6" fill="url(#gp)" fill-opacity="0.92"/>
<circle cx="1190.1" cy="765" r="9" fill="url(#gp)" fill-opacity="0.92"/>
<circle cx="1217.4" cy="705.6" r="10.3" fill="url(#gp)" fill-opacity="0.92"/>
<circle cx="1230.5" cy="744.4" r="9.5" fill="url(#gp)" fill-opacity="0.92"/>
<circle cx="1224.4" cy="615.1" r="12.9" fill="url(#gp)" fill-opacity="0.92"/>
<circle cx="1260.2" cy="696.6" r="10.6" fill="url(#gp)" fill-opacity="0.92"/>
<circle cx="1297.3" cy="729.8" r="9.8" fill="url(#gp)" fill-opacity="0.92"/>
<circle cx="1332.7" cy="607.6" r="13.1" fill="url(#gp)" fill-opacity="0.92"/>
<circle cx="1358.8" cy="672.8" r="11.3" fill="url(#gp)" fill-opacity="0.92"/>
<circle cx="1384.1" cy="469.2" r="18.1" fill="url(#gp)" fill-opacity="0.92"/>
<circle cx="1417.7" cy="578.3" r="14.1" fill="url(#gp)" fill-opacity="0.92"/>
<circle cx="1471" cy="521.5" r="16.1" fill="url(#gp)" fill-opacity="0.92"/>
<circle cx="399.2" cy="1036.3" r="6.7" fill="url(#gy)" fill-opacity="0.9"/>
<circle cx="427.4" cy="1053.8" r="6.7" fill="url(#gy)" fill-opacity="0.9"/>
<circle cx="451.9" cy="1047.5" r="6.7" fill="url(#gy)" fill-opacity="0.9"/>
<circle cx="469.5" cy="1037.3" r="6.7" fill="url(#gy)" fill-opacity="0.9"/>
<circle cx="496" cy="1042.9" r="6.7" fill="url(#gy)" fill-opacity="0.9"/>
<circle cx="520.3" cy="1046.1" r="6.7" fill="url(#gy)" fill-opacity="0.9"/>
<circle cx="548.3" cy="1062.5" r="6.7" fill="url(#gy)" fill-opacity="0.9"/>
<circle cx="573.2" cy="1035" r="6.7" fill="url(#gy)" fill-opacity="0.9"/>
<circle cx="582.8" cy="1118.7" r="6.7" fill="url(#gy)" fill-opacity="0.9"/>
<circle cx="605.4" cy="1012.2" r="6.7" fill="url(#gy)" fill-opacity="0.9"/>
<circle cx="602.9" cy="1057" r="6.7" fill="url(#gy)" fill-opacity="0.9"/>
<circle cx="622.3" cy="1039.6" r="6.7" fill="url(#gy)" fill-opacity="0.9"/>
<circle cx="626.9" cy="979.1" r="6.7" fill="url(#gy)" fill-opacity="0.9"/>
<circle cx="635.5" cy="1069.4" r="6.7" fill="url(#gy)" fill-opacity="0.9"/>
<circle cx="646.1" cy="999.1" r="6.7" fill="url(#gy)" fill-opacity="0.9"/>
<circle cx="652.5" cy="971.2" r="6.7" fill="url(#gy)" fill-opacity="0.9"/>
<circle cx="655.2" cy="1024.5" r="6.7" fill="url(#gy)" fill-opacity="0.9"/>
<circle cx="679.9" cy="987.6" r="6.7" fill="url(#gy)" fill-opacity="0.9"/>
<circle cx="688.7" cy="1030.5" r="6.7" fill="url(#gy)" fill-opacity="0.9"/>
<circle cx="697.6" cy="959.3" r="6.7" fill="url(#gy)" fill-opacity="0.9"/>
<circle cx="709.9" cy="1011.8" r="6.7" fill="url(#gy)" fill-opacity="0.9"/>
<circle cx="705.2" cy="1104.2" r="6.7" fill="url(#gy)" fill-opacity="0.9"/>
<circle cx="721.8" cy="1060.8" r="6.7" fill="url(#gy)" fill-opacity="0.9"/>
<circle cx="726.5" cy="963.9" r="6.7" fill="url(#gy)" fill-opacity="0.9"/>
<circle cx="743.8" cy="1050.3" r="6.7" fill="url(#gy)" fill-opacity="0.9"/>
<circle cx="747.7" cy="1011.8" r="6.7" fill="url(#gy)" fill-opacity="0.9"/>
<circle cx="764.6" cy="990.1" r="6.7" fill="url(#gy)" fill-opacity="0.9"/>
<circle cx="765.8" cy="1067.2" r="6.7" fill="url(#gy)" fill-opacity="0.9"/>
<circle cx="777.7" cy="1030.8" r="6.7" fill="url(#gy)" fill-opacity="0.9"/>
<circle cx="792.4" cy="993.5" r="6.7" fill="url(#gy)" fill-opacity="0.9"/>
<circle cx="796" cy="1062.5" r="6.7" fill="url(#gy)" fill-opacity="0.9"/>
<circle cx="815.8" cy="992.7" r="6.7" fill="url(#gy)" fill-opacity="0.9"/>
<circle cx="816.4" cy="1045.2" r="6.7" fill="url(#gy)" fill-opacity="0.9"/>
<circle cx="825.5" cy="946.1" r="6.7" fill="url(#gy)" fill-opacity="0.9"/>
<circle cx="852.7" cy="991" r="6.7" fill="url(#gy)" fill-opacity="0.9"/>
<circle cx="858.3" cy="970.3" r="6.7" fill="url(#gy)" fill-opacity="0.9"/>
<circle cx="853.6" cy="1042" r="6.7" fill="url(#gy)" fill-opacity="0.9"/>
<circle cx="884" cy="948.1" r="6.7" fill="url(#gy)" fill-opacity="0.9"/>
<circle cx="880.6" cy="1038.4" r="6.7" fill="url(#gy)" fill-opacity="0.9"/>
<circle cx="911.6" cy="1047.2" r="6.7" fill="url(#gy)" fill-opacity="0.9"/>
<circle cx="1096.5" cy="930.6" r="6.7" fill="url(#gy)" fill-opacity="0.9"/>
<circle cx="1116.2" cy="1030.3" r="6.7" fill="url(#gy)" fill-opacity="0.9"/>
<circle cx="1130.1" cy="1012" r="6.7" fill="url(#gy)" fill-opacity="0.9"/>
<circle cx="1138.2" cy="1046" r="6.7" fill="url(#gy)" fill-opacity="0.9"/>
<circle cx="1150.9" cy="1010.4" r="6.7" fill="url(#gy)" fill-opacity="0.9"/>
<circle cx="1159.6" cy="1056.7" r="6.7" fill="url(#gy)" fill-opacity="0.9"/>
<circle cx="1167.9" cy="986.2" r="6.7" fill="url(#gy)" fill-opacity="0.9"/>
<circle cx="1179.7" cy="1017.5" r="6.7" fill="url(#gy)" fill-opacity="0.9"/>
<circle cx="1188.2" cy="1053.7" r="6.7" fill="url(#gy)" fill-opacity="0.9"/>
<circle cx="1219.5" cy="970.5" r="6.7" fill="url(#gy)" fill-opacity="0.9"/>
<circle cx="1223.3" cy="1013.3" r="6.7" fill="url(#gy)" fill-opacity="0.9"/>
<circle cx="1214" cy="1052.2" r="6.7" fill="url(#gy)" fill-opacity="0.9"/>
<circle cx="1227" cy="1073.8" r="6.7" fill="url(#gy)" fill-opacity="0.9"/>
<circle cx="1246.5" cy="1039.1" r="6.7" fill="url(#gy)" fill-opacity="0.9"/>
<circle cx="1246.5" cy="1107.9" r="6.7" fill="url(#gy)" fill-opacity="0.9"/>
<circle cx="1268.7" cy="1006.5" r="6.7" fill="url(#gy)" fill-opacity="0.9"/>
<circle cx="1277.6" cy="1064.1" r="6.7" fill="url(#gy)" fill-opacity="0.9"/>
<circle cx="1287" cy="1093.2" r="6.7" fill="url(#gy)" fill-opacity="0.9"/>
<circle cx="1296.2" cy="981.7" r="6.7" fill="url(#gy)" fill-opacity="0.9"/>
<circle cx="1301.5" cy="1052.6" r="6.7" fill="url(#gy)" fill-opacity="0.9"/>
<circle cx="1326.8" cy="1025.3" r="6.7" fill="url(#gy)" fill-opacity="0.9"/>
<circle cx="1337.6" cy="979" r="6.7" fill="url(#gy)" fill-opacity="0.9"/>
<circle cx="1347.8" cy="1045.5" r="6.7" fill="url(#gy)" fill-opacity="0.9"/>
<circle cx="1361" cy="987.1" r="6.7" fill="url(#gy)" fill-opacity="0.9"/>
<circle cx="1369.5" cy="1041.8" r="6.7" fill="url(#gy)" fill-opacity="0.9"/>
<circle cx="1389.6" cy="1043.6" r="6.7" fill="url(#gy)" fill-opacity="0.9"/>
<circle cx="1394.8" cy="1013.2" r="6.7" fill="url(#gy)" fill-opacity="0.9"/>
<circle cx="1402.3" cy="1069.4" r="6.7" fill="url(#gy)" fill-opacity="0.9"/>
<circle cx="1418" cy="1041.6" r="6.7" fill="url(#gy)" fill-opacity="0.9"/>
<circle cx="1442" cy="1026.2" r="6.7" fill="url(#gy)" fill-opacity="0.9"/>
<circle cx="1471.1" cy="1026.2" r="6.7" fill="url(#gy)" fill-opacity="0.9"/>
<circle cx="1484.8" cy="974" r="6.7" fill="url(#gy)" fill-opacity="0.9"/>
<circle cx="1510.9" cy="1048.7" r="6.7" fill="url(#gy)" fill-opacity="0.9"/>
<circle cx="1534.1" cy="1001.5" r="6.7" fill="url(#gy)" fill-opacity="0.9"/>
<circle cx="1548.2" cy="1037.5" r="6.7" fill="url(#gy)" fill-opacity="0.9"/>
<circle cx="1597.9" cy="1045.1" r="6.7" fill="url(#gy)" fill-opacity="0.9"/>
<circle cx="906.8" cy="958.3" r="6.7" fill="url(#go)" fill-opacity="0.9"/>
<circle cx="974.4" cy="1044.3" r="6.7" fill="url(#go)" fill-opacity="0.9"/>
<circle cx="1017.4" cy="1057" r="6.7" fill="url(#go)" fill-opacity="0.9"/>
<circle cx="1084.7" cy="1027.4" r="6.7" fill="url(#go)" fill-opacity="0.9"/>
<circle cx="942" cy="860" r="7.1" fill="#c2bab2"/>
<text x="942" y="864" text-anchor="middle" font-size="11" font-weight="bold" fill="#2a2a2a">?</text>
<circle cx="1061.9" cy="888.9" r="7" fill="#c2bab2"/>
<text x="1061.9" y="892.9" text-anchor="middle" font-size="11" font-weight="bold" fill="#2a2a2a">?</text>
<circle cx="983.4" cy="905.4" r="8.4" fill="#000"/>
<text x="983.4" y="911.4" text-anchor="middle" font-size="16.5" font-weight="bold" fill="#fff">?</text>
<g clip-path="url(#cclip)" style="mix-blend-mode:screen">
<line x1="307.6" x2="307.6" y1="333.9" y2="416.1" stroke="#005078" stroke-opacity="1" stroke-width="4.5" stroke-linecap="round"/>
<line x1="371" x2="371" y1="258.8" y2="294.6" stroke="#005078" stroke-opacity="1" stroke-width="4.5" stroke-linecap="round"/>
<line x1="401.4" x2="401.4" y1="425.6" y2="519.6" stroke="#005078" stroke-opacity="1" stroke-width="4.5" stroke-linecap="round"/>
<line x1="425" x2="425" y1="322.2" y2="363.4" stroke="#005078" stroke-opacity="1" stroke-width="4.5" stroke-linecap="round"/>
<line x1="490.8" x2="490.8" y1="217.4" y2="232.1" stroke="#005078" stroke-opacity="1" stroke-width="6.5" stroke-linecap="round"/>
<line x1="538" x2="538" y1="361.6" y2="409.9" stroke="#005078" stroke-opacity="1" stroke-width="4.5" stroke-linecap="round"/>
<line x1="589.2" x2="589.2" y1="233.8" y2="258.8" stroke="#005078" stroke-opacity="1" stroke-width="6.5" stroke-linecap="round"/>
<line x1="660" x2="660" y1="308.1" y2="386.8" stroke="#005078" stroke-opacity="1" stroke-width="4.5" stroke-linecap="round"/>
<line x1="697" x2="697" y1="393.2" y2="481.4" stroke="#005078" stroke-opacity="1" stroke-width="4.5" stroke-linecap="round"/>
<line x1="711.7" x2="711.7" y1="141.1" y2="199.2" stroke="#005078" stroke-opacity="1" stroke-width="6.5" stroke-linecap="round"/>
<line x1="737" x2="737" y1="447.6" y2="605.1" stroke="#005078" stroke-opacity="1" stroke-width="4.5" stroke-linecap="round"/>
<line x1="772.8" x2="772.8" y1="622.8" y2="758.8" stroke="#005078" stroke-opacity="1" stroke-width="4.5" stroke-linecap="round"/>
<line x1="777.6" x2="777.6" y1="308.1" y2="426.4" stroke="#005078" stroke-opacity="1" stroke-width="4.5" stroke-linecap="round"/>
<line x1="828.5" x2="828.5" y1="409.4" y2="477.8" stroke="#005078" stroke-opacity="1" stroke-width="4.5" stroke-linecap="round"/>
<line x1="846" x2="846" y1="214.8" y2="316.2" stroke="#005078" stroke-opacity="1" stroke-width="4.5" stroke-linecap="round"/>
<line x1="849.7" x2="849.7" y1="354.2" y2="425.1" stroke="#005078" stroke-opacity="1" stroke-width="4.5" stroke-linecap="round"/>
<line x1="858.8" x2="858.8" y1="615.2" y2="679.2" stroke="#005078" stroke-opacity="1" stroke-width="4.5" stroke-linecap="round"/>
<line x1="925.5" x2="925.5" y1="318.2" y2="357.8" stroke="#005078" stroke-opacity="1" stroke-width="4.5" stroke-linecap="round"/>
<line x1="972.2" x2="972.2" y1="430.2" y2="445.2" stroke="#005078" stroke-opacity="1" stroke-width="4.5" stroke-linecap="round"/>
<line x1="1028.9" x2="1028.9" y1="411.2" y2="415.8" stroke="#005078" stroke-opacity="1" stroke-width="4.5" stroke-linecap="round"/>
<line x1="1064.3" x2="1064.3" y1="280.1" y2="360.1" stroke="#005078" stroke-opacity="1" stroke-width="4.5" stroke-linecap="round"/>
<line x1="1065.7" x2="1065.7" y1="517.1" y2="633" stroke="#005078" stroke-opacity="1" stroke-width="4.5" stroke-linecap="round"/>
<line x1="1101" x2="1101" y1="349.2" y2="444.2" stroke="#005078" stroke-opacity="1" stroke-width="4.5" stroke-linecap="round"/>
<line x1="1104" x2="1104" y1="461.9" y2="500.8" stroke="#005078" stroke-opacity="1" stroke-width="4.5" stroke-linecap="round"/>
<line x1="1185" x2="1185" y1="192.6" y2="235.3" stroke="#005078" stroke-opacity="1" stroke-width="6.5" stroke-linecap="round"/>
<line x1="1183.1" x2="1183.1" y1="644.9" y2="742.5" stroke="#005078" stroke-opacity="1" stroke-width="4.5" stroke-linecap="round"/>
<line x1="1215.5" x2="1215.5" y1="499.1" y2="642" stroke="#005078" stroke-opacity="1" stroke-width="4.5" stroke-linecap="round"/>
<line x1="1223.2" x2="1223.2" y1="339.2" y2="491.6" stroke="#005078" stroke-opacity="1" stroke-width="4.5" stroke-linecap="round"/>
<line x1="1276.5" x2="1276.5" y1="297.6" y2="367.8" stroke="#005078" stroke-opacity="1" stroke-width="4.5" stroke-linecap="round"/>
<line x1="1328" x2="1328" y1="378.2" y2="450.2" stroke="#005078" stroke-opacity="1" stroke-width="4.5" stroke-linecap="round"/>
<line x1="1392.1" x2="1392.1" y1="223.8" y2="247.1" stroke="#005078" stroke-opacity="1" stroke-width="6.5" stroke-linecap="round"/>
<line x1="1440.4" x2="1440.4" y1="310.2" y2="374.8" stroke="#005078" stroke-opacity="1" stroke-width="4.5" stroke-linecap="round"/>
<line x1="1457.9" x2="1457.9" y1="399.4" y2="454.4" stroke="#005078" stroke-opacity="1" stroke-width="4.5" stroke-linecap="round"/>
<line x1="1494.7" x2="1494.7" y1="251.2" y2="267.6" stroke="#005078" stroke-opacity="1" stroke-width="4.5" stroke-linecap="round"/>
<line x1="1576.6" x2="1576.6" y1="345.4" y2="397.8" stroke="#005078" stroke-opacity="1" stroke-width="4.5" stroke-linecap="round"/>
<line x1="450.7" x2="450.7" y1="174.7" y2="437" stroke="#443062" stroke-opacity="1" stroke-width="3.3" stroke-linecap="round"/>
<line x1="549.5" x2="549.5" y1="533.6" y2="533.6" stroke="#443062" stroke-opacity="1" stroke-width="3.3" stroke-linecap="round"/>
<line x1="495.1" x2="498.5" y1="609" y2="609" stroke="#443062" stroke-width="1.3"/>
<line x1="597.7" x2="597.7" y1="572.9" y2="629.6" stroke="#443062" stroke-opacity="1" stroke-width="3.3" stroke-linecap="round"/>
<line x1="662.8" x2="662.8" y1="529.1" y2="605.4" stroke="#443062" stroke-opacity="1" stroke-width="3.3" stroke-linecap="round"/>
<line x1="541.5" x2="541.5" y1="686.1" y2="701" stroke="#443062" stroke-opacity="1" stroke-width="3.3" stroke-linecap="round"/>
<line x1="585.5" x2="585.5" y1="174.7" y2="685.9" stroke="#443062" stroke-opacity="1" stroke-width="3.3" stroke-linecap="round"/>
<line x1="630.6" x2="630.6" y1="659.6" y2="695" stroke="#443062" stroke-opacity="1" stroke-width="3.3" stroke-linecap="round"/>
<line x1="680" x2="683.4" y1="651.9" y2="651.9" stroke="#443062" stroke-width="1.3"/>
<line x1="729.6" x2="729.6" y1="679.6" y2="712.6" stroke="#443062" stroke-opacity="1" stroke-width="3.3" stroke-linecap="round"/>
<line x1="799.4" x2="799.4" y1="750.6" y2="754.4" stroke="#443062" stroke-opacity="1" stroke-width="3.3" stroke-linecap="round"/>
<line x1="823.4" x2="826.8" y1="707.6" y2="707.6" stroke="#443062" stroke-width="1.3"/>
<line x1="861.2" x2="861.2" y1="174.7" y2="767.4" stroke="#443062" stroke-opacity="1" stroke-width="3.3" stroke-linecap="round"/>
<line x1="911.8" x2="915.2" y1="761" y2="761" stroke="#443062" stroke-width="1.3"/>
<line x1="896.7" x2="896.7" y1="725.4" y2="902.9" stroke="#443062" stroke-opacity="1" stroke-width="3.3" stroke-linecap="round"/>
<line x1="1068.4" x2="1068.4" y1="174.7" y2="794.4" stroke="#443062" stroke-opacity="1" stroke-width="3.3" stroke-linecap="round"/>
<line x1="1190.1" x2="1190.1" y1="681.1" y2="910.9" stroke="#443062" stroke-opacity="1" stroke-width="3.3" stroke-linecap="round"/>
<line x1="1217.4" x2="1217.4" y1="700.2" y2="713.1" stroke="#443062" stroke-opacity="1" stroke-width="3.3" stroke-linecap="round"/>
<line x1="1230.5" x2="1230.5" y1="667" y2="765.4" stroke="#443062" stroke-opacity="1" stroke-width="3.3" stroke-linecap="round"/>
<line x1="1224.4" x2="1224.4" y1="585.9" y2="645.6" stroke="#443062" stroke-opacity="1" stroke-width="3.3" stroke-linecap="round"/>
<line x1="1260.2" x2="1260.2" y1="663" y2="693.4" stroke="#443062" stroke-opacity="1" stroke-width="3.3" stroke-linecap="round"/>
<line x1="1297.3" x2="1297.3" y1="630.9" y2="929.1" stroke="#443062" stroke-opacity="1" stroke-width="3.3" stroke-linecap="round"/>
<line x1="1332.7" x2="1332.7" y1="589.9" y2="626.6" stroke="#443062" stroke-opacity="1" stroke-width="3.3" stroke-linecap="round"/>
<line x1="1358.8" x2="1358.8" y1="641.9" y2="711.1" stroke="#443062" stroke-opacity="1" stroke-width="3.3" stroke-linecap="round"/>
<line x1="1384.1" x2="1384.1" y1="433" y2="515.2" stroke="#443062" stroke-opacity="1" stroke-width="3.3" stroke-linecap="round"/>
<line x1="1417.7" x2="1417.7" y1="547.6" y2="615.4" stroke="#443062" stroke-opacity="1" stroke-width="3.3" stroke-linecap="round"/>
<line x1="1471" x2="1471" y1="505.4" y2="541.4" stroke="#443062" stroke-opacity="1" stroke-width="3.3" stroke-linecap="round"/>
<line x1="399.2" x2="399.2" y1="1009.1" y2="1069.9" stroke="#6e5c1e" stroke-opacity="1" stroke-width="3.2" stroke-linecap="round"/>
<line x1="451.9" x2="451.9" y1="1006.4" y2="1100.6" stroke="#6e5c1e" stroke-opacity="1" stroke-width="3.2" stroke-linecap="round"/>
<line x1="548.3" x2="548.3" y1="1046.6" y2="1081" stroke="#6e5c1e" stroke-opacity="1" stroke-width="3.2" stroke-linecap="round"/>
<line x1="573.2" x2="573.2" y1="1003.8" y2="1073.6" stroke="#6e5c1e" stroke-opacity="1" stroke-width="3.2" stroke-linecap="round"/>
<line x1="582.8" x2="582.8" y1="968.5" y2="1117.1" stroke="#6e5c1e" stroke-opacity="1" stroke-width="3.2" stroke-linecap="round"/>
<line x1="605.4" x2="605.4" y1="993.8" y2="1033.4" stroke="#6e5c1e" stroke-opacity="1" stroke-width="3.2" stroke-linecap="round"/>
<line x1="622.3" x2="622.3" y1="1023.1" y2="1058.8" stroke="#6e5c1e" stroke-opacity="1" stroke-width="3.2" stroke-linecap="round"/>
<line x1="626.9" x2="626.9" y1="969.7" y2="991.1" stroke="#6e5c1e" stroke-opacity="1" stroke-width="3.2" stroke-linecap="round"/>
<line x1="635.5" x2="635.5" y1="1061.6" y2="1296.8" stroke="#6e5c1e" stroke-opacity="1" stroke-width="3.2" stroke-linecap="round"/>
<line x1="652.5" x2="652.5" y1="950.2" y2="1013.1" stroke="#6e5c1e" stroke-opacity="1" stroke-width="3.2" stroke-linecap="round"/>
<line x1="709.9" x2="709.9" y1="977.3" y2="1054.6" stroke="#6e5c1e" stroke-opacity="1" stroke-width="3.2" stroke-linecap="round"/>
<line x1="705.2" x2="705.2" y1="1072.9" y2="1141.8" stroke="#6e5c1e" stroke-opacity="1" stroke-width="3.2" stroke-linecap="round"/>
<line x1="726.5" x2="726.5" y1="941.8" y2="1025.8" stroke="#6e5c1e" stroke-opacity="1" stroke-width="3.2" stroke-linecap="round"/>
<line x1="743.8" x2="743.8" y1="1035.8" y2="1068.2" stroke="#6e5c1e" stroke-opacity="1" stroke-width="3.2" stroke-linecap="round"/>
<line x1="747.7" x2="747.7" y1="1000.2" y2="1026.3" stroke="#6e5c1e" stroke-opacity="1" stroke-width="3.2" stroke-linecap="round"/>
<line x1="764.6" x2="764.6" y1="958.7" y2="1029.2" stroke="#6e5c1e" stroke-opacity="1" stroke-width="3.2" stroke-linecap="round"/>
<line x1="765.8" x2="765.8" y1="1050.2" y2="1088.9" stroke="#6e5c1e" stroke-opacity="1" stroke-width="3.2" stroke-linecap="round"/>
<line x1="792.4" x2="792.4" y1="977.3" y2="1013.4" stroke="#6e5c1e" stroke-opacity="1" stroke-width="3.2" stroke-linecap="round"/>
<line x1="796" x2="796" y1="1046.8" y2="1174.7" stroke="#6e5c1e" stroke-opacity="1" stroke-width="3.2" stroke-linecap="round"/>
<line x1="815.8" x2="815.8" y1="986.6" y2="1000.4" stroke="#6e5c1e" stroke-opacity="1" stroke-width="3.2" stroke-linecap="round"/>
<line x1="816.4" x2="816.4" y1="1046.8" y2="1155.5" stroke="#6e5c1e" stroke-opacity="1" stroke-width="3.2" stroke-linecap="round"/>
<line x1="825.5" x2="825.5" y1="929" y2="964" stroke="#6e5c1e" stroke-opacity="1" stroke-width="3.2" stroke-linecap="round"/>
<line x1="852.7" x2="852.7" y1="942.6" y2="1062.2" stroke="#6e5c1e" stroke-opacity="1" stroke-width="3.2" stroke-linecap="round"/>
<line x1="858.3" x2="858.3" y1="927.3" y2="1026.6" stroke="#6e5c1e" stroke-opacity="1" stroke-width="3.2" stroke-linecap="round"/>
<line x1="884" x2="884" y1="935" y2="964" stroke="#6e5c1e" stroke-opacity="1" stroke-width="3.2" stroke-linecap="round"/>
<line x1="1096.5" x2="1096.5" y1="876.8" y2="1006.6" stroke="#6e5c1e" stroke-opacity="1" stroke-width="3.2" stroke-linecap="round"/>
<line x1="1116.2" x2="1116.2" y1="1022.6" y2="1039.7" stroke="#6e5c1e" stroke-opacity="1" stroke-width="3.2" stroke-linecap="round"/>
<line x1="1130.1" x2="1130.1" y1="983.6" y2="1047.3" stroke="#6e5c1e" stroke-opacity="1" stroke-width="3.2" stroke-linecap="round"/>
<line x1="1150.9" x2="1150.9" y1="1000.5" y2="1027" stroke="#6e5c1e" stroke-opacity="1" stroke-width="3.2" stroke-linecap="round"/>
<line x1="1159.6" x2="1159.6" y1="948" y2="1055.1" stroke="#6e5c1e" stroke-opacity="1" stroke-width="3.2" stroke-linecap="round"/>
<line x1="1167.9" x2="1167.9" y1="960.7" y2="1021" stroke="#6e5c1e" stroke-opacity="1" stroke-width="3.2" stroke-linecap="round"/>
<line x1="1179.7" x2="1179.7" y1="1006.4" y2="1045.6" stroke="#6e5c1e" stroke-opacity="1" stroke-width="3.2" stroke-linecap="round"/>
<line x1="1219.5" x2="1219.5" y1="955.6" y2="988" stroke="#6e5c1e" stroke-opacity="1" stroke-width="3.2" stroke-linecap="round"/>
<line x1="1214" x2="1214" y1="1024.2" y2="1086.8" stroke="#6e5c1e" stroke-opacity="1" stroke-width="3.2" stroke-linecap="round"/>
<line x1="1246.5" x2="1246.5" y1="976.8" y2="1078.4" stroke="#6e5c1e" stroke-opacity="1" stroke-width="3.2" stroke-linecap="round"/>
<line x1="1246.5" x2="1246.5" y1="1081.6" y2="1136.7" stroke="#6e5c1e" stroke-opacity="1" stroke-width="3.2" stroke-linecap="round"/>
<line x1="1268.7" x2="1268.7" y1="967.5" y2="1060.8" stroke="#6e5c1e" stroke-opacity="1" stroke-width="3.2" stroke-linecap="round"/>
<line x1="1287" x2="1287" y1="1034.1" y2="1178.6" stroke="#6e5c1e" stroke-opacity="1" stroke-width="3.2" stroke-linecap="round"/>
<line x1="1296.2" x2="1296.2" y1="956.7" y2="1029.1" stroke="#6e5c1e" stroke-opacity="1" stroke-width="3.2" stroke-linecap="round"/>
<line x1="1301.5" x2="1301.5" y1="1054.2" y2="1274.6" stroke="#6e5c1e" stroke-opacity="1" stroke-width="3.2" stroke-linecap="round"/>
<line x1="1326.8" x2="1326.8" y1="1008.9" y2="1162.8" stroke="#6e5c1e" stroke-opacity="1" stroke-width="3.2" stroke-linecap="round"/>
<line x1="1361" x2="1361" y1="988.6" y2="1160.6" stroke="#6e5c1e" stroke-opacity="1" stroke-width="3.2" stroke-linecap="round"/>
<line x1="1394.8" x2="1394.8" y1="953.6" y2="1032.7" stroke="#6e5c1e" stroke-opacity="1" stroke-width="3.2" stroke-linecap="round"/>
<line x1="1402.3" x2="1402.3" y1="1043.2" y2="1154.1" stroke="#6e5c1e" stroke-opacity="1" stroke-width="3.2" stroke-linecap="round"/>
<line x1="1418" x2="1418" y1="1035" y2="1056.1" stroke="#6e5c1e" stroke-opacity="1" stroke-width="3.2" stroke-linecap="round"/>
<line x1="1442" x2="1442" y1="1027.6" y2="1067.4" stroke="#6e5c1e" stroke-opacity="1" stroke-width="3.2" stroke-linecap="round"/>
<line x1="1471.1" x2="1471.1" y1="1018.8" y2="1033.6" stroke="#6e5c1e" stroke-opacity="1" stroke-width="3.2" stroke-linecap="round"/>
<line x1="1484.8" x2="1484.8" y1="975.6" y2="1044.4" stroke="#6e5c1e" stroke-opacity="1" stroke-width="3.2" stroke-linecap="round"/>
<line x1="1534.1" x2="1534.1" y1="978.3" y2="1045.3" stroke="#6e5c1e" stroke-opacity="1" stroke-width="3.2" stroke-linecap="round"/>
<line x1="906.8" x2="906.8" y1="906.2" y2="996.1" stroke="#6e3c10" stroke-opacity="1" stroke-width="3.2" stroke-linecap="round"/>
<line x1="974.4" x2="974.4" y1="1009.5" y2="1088.4" stroke="#6e3c10" stroke-opacity="1" stroke-width="3.2" stroke-linecap="round"/>
<line x1="1017.4" x2="1017.4" y1="1045.4" y2="1070.4" stroke="#6e3c10" stroke-opacity="1" stroke-width="3.2" stroke-linecap="round"/>
<line x1="1084.7" x2="1084.7" y1="1013.2" y2="1041.4" stroke="#6e3c10" stroke-opacity="1" stroke-width="3.2" stroke-linecap="round"/>
</g>
<text transform="translate(451 450.6) scale(1 1.04)" text-anchor="middle" font-size="32.5" font-weight="bold" fill="#fff">?</text>
<text x="896.7" y="857.6" text-anchor="middle" font-size="11" font-weight="bold" fill="#fff">?</text>
<text transform="translate(1384.4 480.2) scale(1 1.04)" text-anchor="middle" font-size="29.7" font-weight="bold" fill="#fff">?</text>
</svg></body></html>
